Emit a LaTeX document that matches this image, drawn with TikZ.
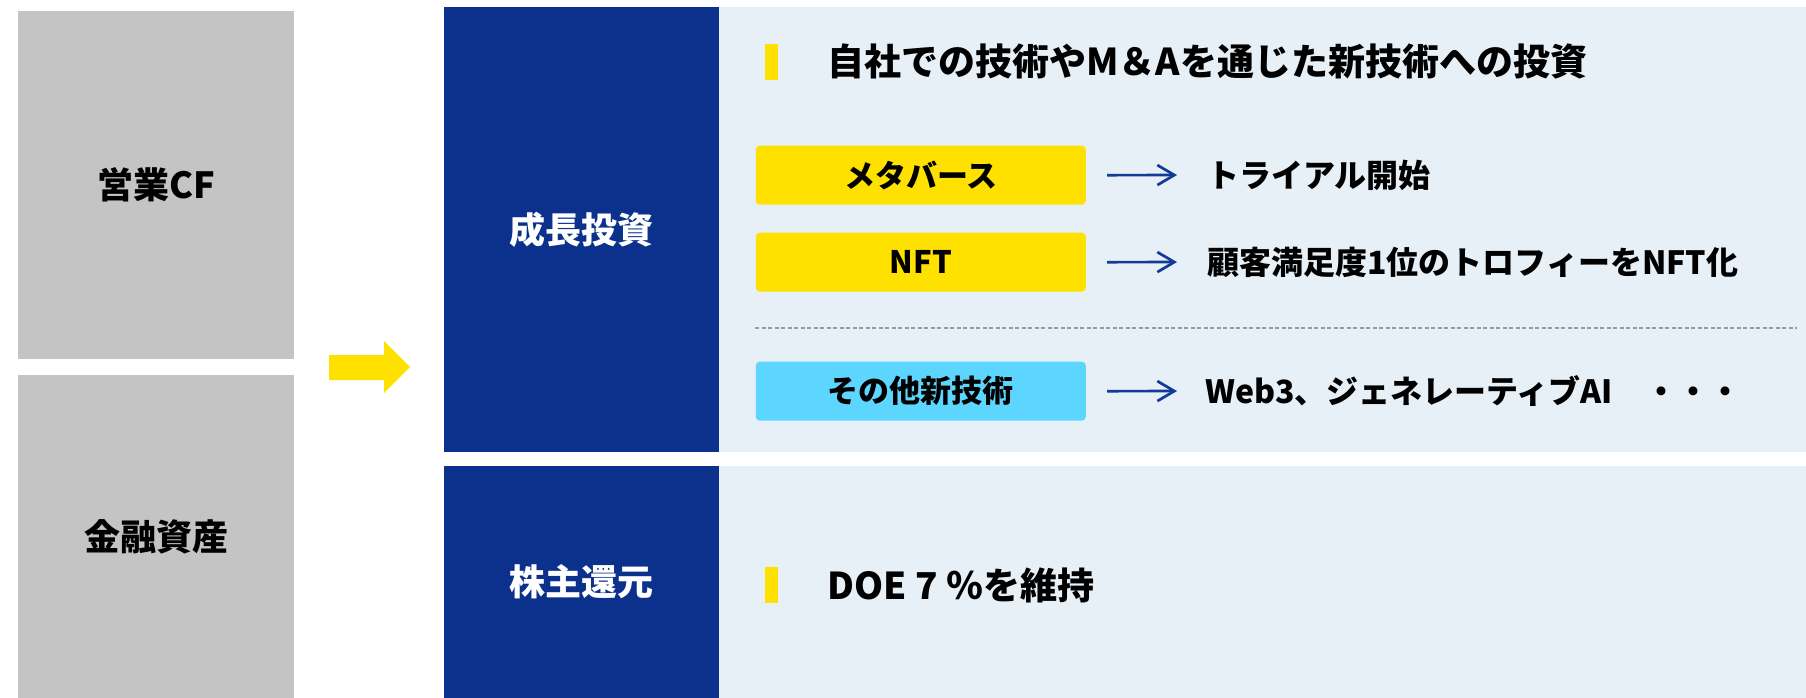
\documentclass[tikz,border=0pt]{standalone}
\usepackage{fontspec}
\setmainfont{Noto Sans CJK JP}
\usetikzlibrary{arrows.meta}
\definecolor{boxgray}{HTML}{C4C4C4}
\definecolor{navy}{HTML}{0B318C}
\definecolor{panel}{HTML}{E8F0F7}
\definecolor{yel}{HTML}{FFE100}
\definecolor{cyanbox}{HTML}{5CD6FF}
\definecolor{arrblue}{HTML}{123A96}
\definecolor{dashgray}{HTML}{9A9A9A}
\begin{document}
\begin{tikzpicture}[x=1pt,y=-1pt,
  bigfont/.style={font=\fontsize{36}{40}\selectfont\bfseries},
  titlefont/.style={font=\fontsize{37}{42}\selectfont\bfseries},
  listfont/.style={font=\fontsize{32}{36}\selectfont\bfseries},
  boxfont/.style={font=\fontsize{31}{36}\selectfont\bfseries},
  graybox/.style={fill=boxgray, draw=none, anchor=north west, inner sep=0pt, bigfont, text=black},
  bluebox/.style={fill=navy, draw=none, anchor=north west, inner sep=0pt, bigfont, text=white},
  panelbox/.style={fill=panel, draw=none, anchor=north west, inner sep=0pt},
  ybar/.style={fill=yel, draw=none, anchor=north west, inner sep=0pt, minimum width=12.5pt, minimum height=36pt},
  tagbox/.style={draw=none, rounded corners=4pt, anchor=north west, inner sep=0pt, minimum width=330pt, minimum height=59pt, boxfont, text=black},
  itemtext/.style={anchor=west, inner sep=0pt, listfont, text=black},
  headtext/.style={anchor=west, inner sep=0pt, titlefont, text=black},
  conn/.style={draw=arrblue, line width=2.7pt, -{Straight Barb[length=17pt,width=20pt,line width=2.7pt]}, shorten <=21pt, shorten >=30pt}
]
\useasboundingbox (0,0) rectangle (1806,698);

% left column
\node[graybox, minimum width=276pt, minimum height=348pt] (cf) at (18,11) {営業CF};
\node[graybox, minimum width=276pt, minimum height=323pt] (fa) at (18,375) {金融資産};

% big yellow arrow
\fill[yel] (329,355) -- (384,355) -- (384,341) -- (410,367) -- (384,393) -- (384,380) -- (329,380) -- cycle;

% right side panels
\node[panelbox, minimum width=1087pt, minimum height=445pt] (p1) at (719,7) {};
\node[panelbox, minimum width=1087pt, minimum height=232pt] (p2) at (719,466) {};
\node[bluebox, minimum width=275pt, minimum height=445pt] (gi) at (444,7) {成長投資};
\node[bluebox, minimum width=275pt, minimum height=232pt] (sr) at (444,466) {株主還元};

% headline
\node[ybar] (hb) at (765,44) {};
\node[headtext] (ht) at (827,61) {自社での技術やM＆Aを通じた新技術への投資};

% tags
\node[tagbox, fill=yel] (t1) at (755.6,145.5) {メタバース};
\node[tagbox, fill=yel] (t2) at (755.6,232.5) {NFT};
\node[tagbox, fill=cyanbox] (t3) at (755.6,361.5) {その他新技術};

\node[itemtext] (i1) at (1207,175) {トライアル開始};
\node[itemtext] (i2) at (1207,262) {顧客満足度1位のトロフィーをNFT化};
\node[itemtext] (i3) at (1205,391) {Web3、ジェネレーティブAI　・・・};

\draw[conn] (t1.east) -- (i1.west);
\draw[conn] (t2.east) -- (i2.west);
\draw[conn] (t3.east) -- ([xshift=2pt]i3.west);

% dashed separator
\coordinate (dl) at (755,328);
\coordinate (dr) at (1797,328);
\draw[dashgray, line width=1.5pt, dash pattern=on 4pt off 2.5pt] (dl) -- (dr);

% shareholder return
\node[ybar] (db) at (765,567) {};
\node[headtext] (dt) at (827,585) {DOE 7 ％を維持};
\end{tikzpicture}
\end{document}
